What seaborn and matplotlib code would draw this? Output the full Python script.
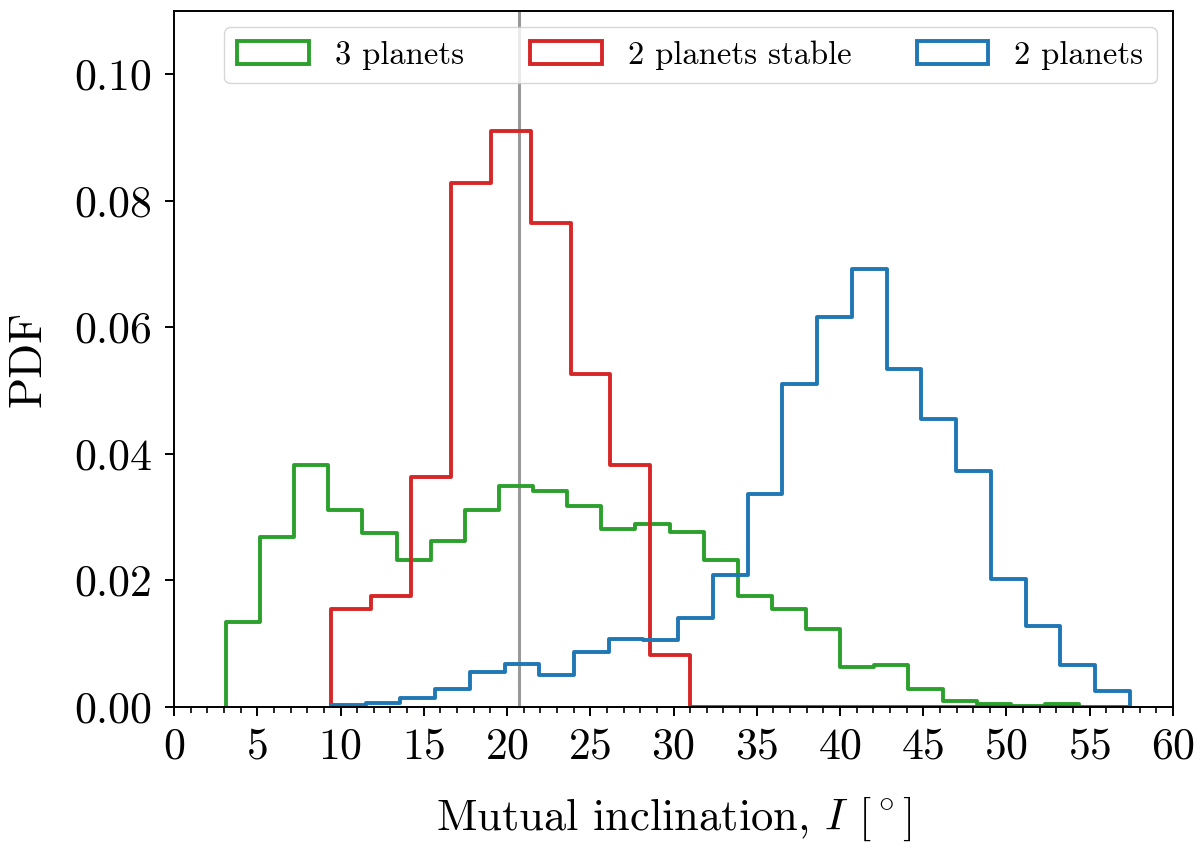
import numpy as np
import pandas as pd
import matplotlib
matplotlib.use("Agg")
import matplotlib.pyplot as plt
from matplotlib.patches import Patch
import seaborn as sns

# ---- data ----
labels = ["3 planets", "2 planets stable", "2 planets"]
colors = ["#2ca02c", "#d62728", "#1f77b4"]

green_range = (3.12, 54.36)
green_pdf = [0.0134, 0.0269, 0.0382, 0.0311, 0.0275, 0.0233, 0.0262, 0.0311,
             0.0349, 0.0341, 0.0318, 0.0282, 0.0290, 0.0277, 0.0233, 0.0176,
             0.0155, 0.0123, 0.0063, 0.0066, 0.0028, 0.0009, 0.0005, 0.0002,
             0.0005]

red_range = (9.42, 57.40)
red_pdf = [0.0155, 0.0176, 0.0363, 0.0829, 0.0910, 0.0765, 0.0527, 0.0383,
           0.0082, 0.0, 0.0, 0.0, 0.0, 0.0, 0.0, 0.0, 0.0, 0.0, 0.0, 0.0]

blue_range = (9.42, 57.40)
blue_pdf = [0.0003, 0.0006, 0.0015, 0.0028, 0.0055, 0.0068, 0.0051, 0.0087,
            0.0108, 0.0106, 0.0141, 0.0208, 0.0336, 0.0510, 0.0616, 0.0693,
            0.0534, 0.0456, 0.0373, 0.0203, 0.0128, 0.0066, 0.0025]

vline_x = 20.7
xlabel = r"Mutual inclination, $I$ [$^\circ$]"
ylabel = "PDF"

# ---- style ----
plt.rcParams["font.family"] = "serif"
plt.rcParams["font.serif"] = ["cmr10", "DejaVu Serif"]
plt.rcParams["mathtext.fontset"] = "cm"
plt.rcParams["axes.formatter.use_mathtext"] = True
plt.rcParams["axes.unicode_minus"] = False

fig = plt.figure(figsize=(12, 8.58), dpi=100)
ax = fig.add_axes([0.145, 0.176, 0.8325, 0.811])

lw = 2.8
series = [(green_range, green_pdf), (red_range, red_pdf), (blue_range, blue_pdf)]
for (rng, pdf), lab, col in zip(series, labels, colors):
    edges = np.linspace(rng[0], rng[1], len(pdf) + 1)
    centers = 0.5 * (edges[:-1] + edges[1:])
    df = pd.DataFrame({"x": centers, "w": pdf})
    sns.histplot(data=df, x="x", weights="w", bins=[float(e) for e in edges],
                 stat="count", element="step", fill=False, color=col,
                 linewidth=lw, ax=ax)
    line = ax.lines[-1]
    xd = np.asarray(line.get_xdata())
    yd = np.asarray(line.get_ydata())
    line.set_data(np.r_[xd[0], xd, xd[-1]], np.r_[0.0, yd, 0.0])

ax.axvline(vline_x, color="gray", alpha=0.8, lw=2.2, zorder=0.5)

ax.set_xlim(0, 60)
ax.set_ylim(0, 0.11)
ax.set_xticks(np.arange(0, 61, 5))
ax.set_xticks(np.arange(0, 61, 1), minor=True)
ax.set_yticks([0.0, 0.02, 0.04, 0.06, 0.08, 0.10])
ax.yaxis.set_major_formatter(matplotlib.ticker.FormatStrFormatter("%.2f"))
ax.tick_params(axis="both", which="major", labelsize=31.5, length=6.5,
               width=1.4, direction="out")
ax.tick_params(axis="x", which="major", pad=8)
ax.tick_params(axis="y", which="major", pad=9)
ax.tick_params(axis="x", which="minor", length=4.2, width=1.2, direction="out")
for s in ax.spines.values():
    s.set_linewidth(1.4)

ax.set_xlabel(xlabel, fontsize=32, labelpad=20)
ax.set_ylabel(ylabel, fontsize=33, labelpad=18)

handles = [Patch(facecolor="none", edgecolor=c, linewidth=lw) for c in colors]
ax.legend(handles, labels, loc="upper right", ncol=3, fontsize=23.5,
          handlelength=2.2, frameon=True)

fig.savefig("out.png", dpi=100)
